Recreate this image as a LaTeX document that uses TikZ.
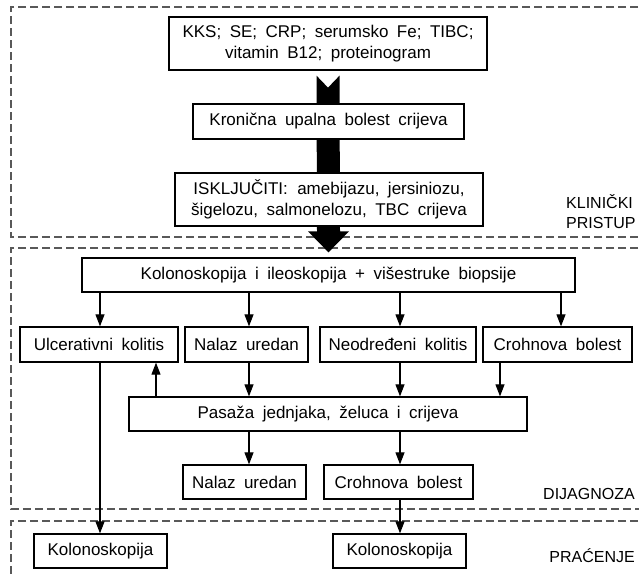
\documentclass[tikz,border=0pt]{standalone}
\usepackage{fontspec}
\setmainfont[WordSpace=1.8]{Liberation Sans}
\usetikzlibrary{arrows.meta,backgrounds,calc}
\begin{document}
\begin{tikzpicture}[x=1pt,y=-1pt,
  box/.style={draw=black, line width=1.3pt, fill=white, inner sep=0pt, align=center,
    font=\fontsize{17}{20.5}\selectfont},
  arr/.style={-{Triangle[length=12pt,width=9pt]}, line width=1.1pt},
  region/.style={draw=black!65, dash pattern=on 8pt off 4pt, line width=1.2pt},
  lab/.style={font=\fontsize{16}{20}\selectfont, inner sep=0pt, align=left}]
\useasboundingbox (0,0) rectangle (639,576);
\clip (0,0) rectangle (639,576);

% boxes
\node[box, minimum width=318, minimum height=53] (b1) at (328,43.5) {KKS; SE; CRP; serumsko Fe; TIBC;\\vitamin B12; proteinogram};
\node[box, minimum width=271, minimum height=35] (b2) at (328.5,121.5) {Kronična upalna bolest crijeva};
\node[box, minimum width=308, minimum height=53] (b3) at (329,199.5) {ISKLJUČITI:\hspace{0.55em}amebijazu, jersiniozu,\\šigelozu, salmonelozu, TBC crijeva};
\node[box, minimum width=493, minimum height=34] (kol) at (328.5,275) {Kolonoskopija i ileoskopija + višestruke biopsije};
\node[box, minimum width=158, minimum height=35] (uc) at (99,344.5) {Ulcerativni kolitis};
\node[box, minimum width=123, minimum height=35] (nu1) at (246.5,344.5) {Nalaz uredan};
\node[box, minimum width=156, minimum height=35] (nk) at (398,344.5) {Neodređeni kolitis};
\node[box, minimum width=149, minimum height=35] (cb1) at (557.5,344.5) {Crohnova bolest};
\node[box, minimum width=398, minimum height=34] (pas) at (328,414) {Pasaža jednjaka, želuca i crijeva};
\node[box, minimum width=123, minimum height=34] (nu2) at (244.5,482) {Nalaz uredan};
\node[box, minimum width=149, minimum height=34] (cb2) at (398.5,482) {Crohnova bolest};
\node[box, minimum width=133, minimum height=34] (k1) at (100.5,551) {Kolonoskopija};
\node[box, minimum width=133, minimum height=34] (k2) at (399.5,551) {Kolonoskopija};

% section labels
\node[lab, anchor=west] (kp) at (566,212) {KLINIČKI\\PRISTUP};
\node[lab, anchor=east] (dg) at (635,494) {DIJAGNOZA};
\node[lab, anchor=east] (pr) at (635,556) {PRAĆENJE};

% helper x positions
\coordinate (x100) at (100,0);
\coordinate (x156) at (156,0);
\coordinate (x249) at (249,0);
\coordinate (x400) at (400,0);
\coordinate (x500) at (500,0);
\coordinate (x561) at (561,0);

% thin arrows
\draw[arr] (kol.south -| x100) -- (uc.north -| x100);
\draw[arr] (kol.south -| x249) -- (nu1.north -| x249);
\draw[arr] (kol.south -| x400) -- (nk.north -| x400);
\draw[arr] (kol.south -| x561) -- (cb1.north -| x561);
\draw[arr] (nu1.south -| x249) -- (pas.north -| x249);
\draw[arr] (nk.south -| x400) -- (pas.north -| x400);
\draw[arr] (cb1.south -| x500) -- (pas.north -| x500);
\draw[arr] (pas.north -| x156) -- (uc.south -| x156);
\draw[arr] (uc.south -| x100) -- (k1.north -| x100);
\draw[arr] (pas.south -| x249) -- (nu2.north -| x249);
\draw[arr] (pas.south -| x400) -- (cb2.north -| x400);
\draw[arr] (cb2.south -| x400) -- (k2.north -| x400);

\begin{pgfonlayer}{background}
% dashed regions
\draw[region] (650,7) -- (11,7) -- (11,237) -- (650,237);
\draw[region] (650,248) -- (11,248) -- (11,509) -- (650,509);
\draw[region] (650,521) -- (11,521) -- (11,600);
% block arrow
\fill[black] ($(b1.south)+(-11.5,5)$) -- ($(b1.south)+(0,17)$) -- ($(b1.south)+(11.5,5)$)
  -- ($(kol.north)+(11.5,-26)$) -- ($(kol.north)+(20.5,-26)$) -- ($(kol.north)+(0,-5)$)
  -- ($(kol.north)+(-20.5,-26)$) -- ($(kol.north)+(-11.5,-26)$) -- cycle;
\end{pgfonlayer}
\end{tikzpicture}
\end{document}
